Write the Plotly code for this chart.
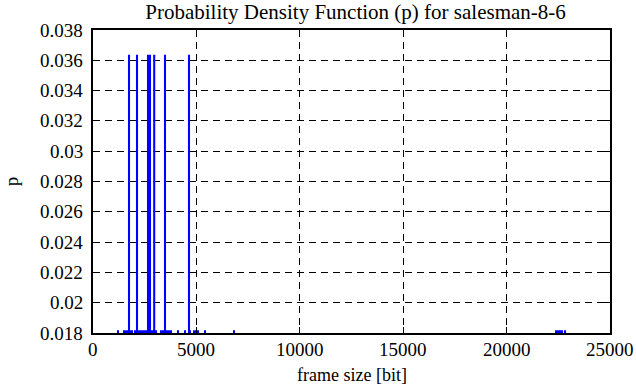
import plotly.graph_objects as go

# frame sizes [bit] with probability 2/55 (tall impulses)
peak_x = [1741, 2128, 2660, 2756, 2960, 3482, 4642]
peak_p = [0.03636] * len(peak_x)

# frame sizes [bit] with probability 1/55 (impulses just above the axis floor)
single_x = [1209, 1499, 1596, 1693, 1789, 1886, 2031, 2225, 2321, 2418, 2515,
            2611, 2708, 2805, 2902, 3047, 3288, 3385, 3579, 3675, 3772, 4111,
            4449, 4691, 4884, 4981, 5078, 5416, 6819,
            22390, 22487, 22584, 22680, 22825]
single_p = [0.01818] * len(single_x)

x_ticks = [0, 5000, 10000, 15000, 20000, 25000]
x_tick_labels = ["0", "5000", "10000", "15000", "20000", "25000"]
y_ticks = [0.018, 0.02, 0.022, 0.024, 0.026, 0.028, 0.03, 0.032, 0.034, 0.036, 0.038]
y_tick_labels = ["0.018", "0.02", "0.022", "0.024", "0.026", "0.028", "0.03",
                 "0.032", "0.034", "0.036", "0.038"]

FONT = "Liberation Serif"
BLUE = "#0000ff"
TICK_FONT = dict(family=FONT, size=19, color="black")

fig = go.Figure()
fig.add_trace(go.Bar(x=single_x, y=single_p, width=100,
                     marker=dict(color=BLUE, line=dict(width=0)), showlegend=False))
fig.add_trace(go.Bar(x=peak_x, y=peak_p, width=100,
                     marker=dict(color=BLUE, line=dict(width=0)), showlegend=False))

# tick labels drawn as annotations (placed by the axes' own scales)
for v, t in zip(y_ticks, y_tick_labels):
    fig.add_annotation(text=t, xref="paper", x=0, xanchor="right", xshift=-9,
                       yref="y", y=v, yanchor="middle", showarrow=False,
                       font=TICK_FONT, borderpad=0)
for v, t in zip(x_ticks, x_tick_labels):
    fig.add_annotation(text=t, xref="x", x=v, xanchor="center",
                       yref="paper", y=0, yanchor="top", yshift=-5,
                       showarrow=False, font=TICK_FONT, borderpad=0)

# axis titles
fig.add_annotation(text="frame size [bit]", xref="paper", x=0.5, xanchor="center",
                   yref="paper", y=-0.139, yanchor="middle", showarrow=False,
                   font=dict(family=FONT, size=18, color="black"))
fig.add_annotation(text="p", xref="paper", x=-0.157, xanchor="center",
                   yref="paper", y=0.5, yanchor="middle", textangle=-90,
                   showarrow=False, font=dict(family=FONT, size=19, color="black"))

fig.update_layout(
    width=636, height=387,
    margin=dict(l=93, r=26, t=30, b=54, autoexpand=False),
    plot_bgcolor="white", paper_bgcolor="white",
    barmode="overlay",
    font=dict(family=FONT, size=18, color="black"),
    title=dict(text="Probability Density Function (p) for salesman-8-6",
               x=0.559, xanchor="center", y=0.969, yanchor="middle",
               font=dict(family=FONT, size=21, color="black")),
    xaxis=dict(range=[0, 25000], tickvals=x_ticks, showticklabels=False,
               showline=True, linecolor="black", linewidth=2, mirror="ticks",
               ticks="inside", ticklen=6, tickwidth=1, tickcolor="black",
               showgrid=True, gridcolor="black", gridwidth=1, griddash="7px,5px",
               zeroline=False, automargin=False),
    yaxis=dict(range=[0.018, 0.038], tickvals=y_ticks, showticklabels=False,
               showline=True, linecolor="black", linewidth=2, mirror="ticks",
               ticks="inside", ticklen=6, tickwidth=1, tickcolor="black",
               showgrid=True, gridcolor="black", gridwidth=1, griddash="7px,5px",
               zeroline=False, automargin=False),
)

fig.write_html("out.html", config={"displayModeBar": False},
               post_script="document.body.style.margin='0';document.body.style.overflow='hidden';")
